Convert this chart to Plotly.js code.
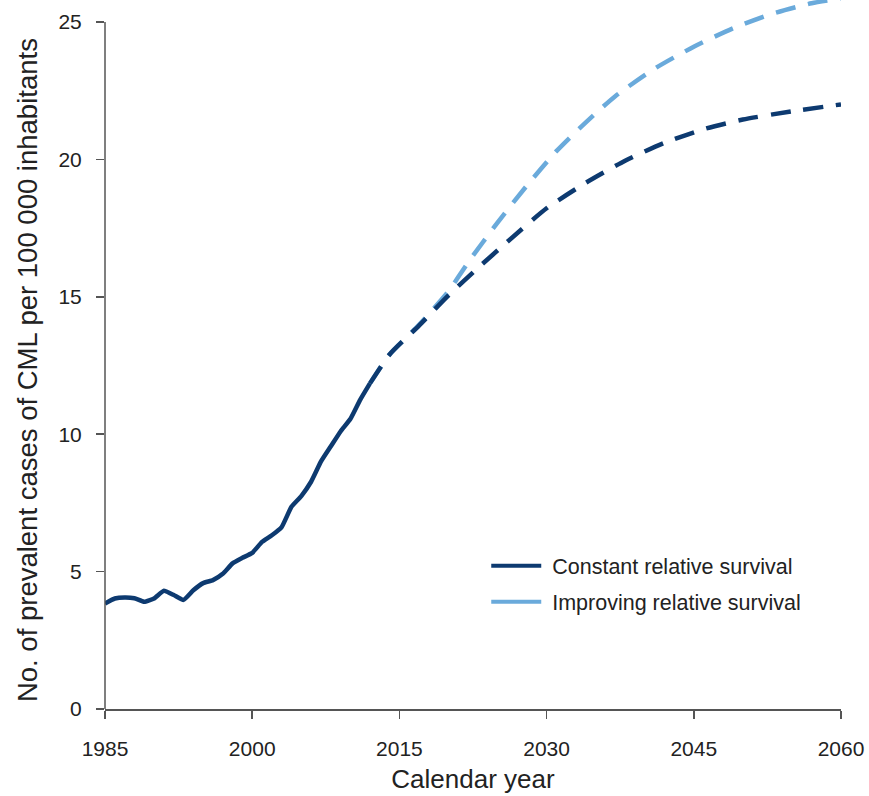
<!DOCTYPE html>
<html>
<head>
<meta charset="utf-8">
<script src="https://cdn.plot.ly/plotly-3.0.1.min.js"></script>
<style>html,body{margin:0;padding:0;background:#fff;}#chart{width:869px;height:796px;}</style>
</head>
<body>
<div id="chart"></div>
<script>
// Observed prevalence (solid)
const histYears = [1985,1986,1987,1988,1989,1990,1991,1992,1993,1994,1995,1996,1997,1998,1999,2000,2001,2002,2003,2004,2005,2006,2007,2008,2009,2010,2011,2012];
const histValues = [3.84,4.02,4.06,4.03,3.90,4.02,4.30,4.15,3.97,4.32,4.58,4.69,4.92,5.30,5.50,5.68,6.08,6.32,6.62,7.36,7.75,8.27,9.00,9.55,10.10,10.55,11.25,11.85];

// Projection: constant relative survival (dark dashed)
const constYears = [2012,2014,2017,2020,2023,2026,2030,2034,2038,2042,2046,2050,2055,2060];
const constValues = [11.85,12.90,13.95,15.05,16.05,17.00,18.22,19.15,19.95,20.60,21.10,21.45,21.75,22.00];

// Projection: improving relative survival (light dashed)
const improvYears = [2012,2014,2017,2020,2022,2025,2028,2031,2034,2037,2041,2045,2049,2053,2057,2060];
const improvValues = [11.85,12.90,13.98,15.20,16.25,17.70,19.05,20.30,21.35,22.30,23.30,24.10,24.77,25.30,25.68,25.85];

const seriesNames = ["Constant relative survival", "Improving relative survival"];
const xTicks = [1985,2000,2015,2030,2045,2060];
const yTicks = [0,5,10,15,20,25];
const xTitle = "Calendar year";
const yTitle = "No. of prevalent cases of CML per 100 000 inhabitants";

const dark = "#0d3a70";
const light = "#6aaadb";
const font = "Liberation Sans, Arial, Helvetica, sans-serif";

const traces = [
  {x: improvYears, y: improvValues, mode: "lines", line: {color: light, width: 4.5, dash: "20px,13px", shape: "spline", smoothing: 0.6}, showlegend: false, hoverinfo: "skip"},
  {x: constYears, y: constValues, mode: "lines", line: {color: dark, width: 4.5, dash: "20px,13px", shape: "spline", smoothing: 0.6}, showlegend: false, hoverinfo: "skip"},
  {x: histYears, y: histValues, mode: "lines", line: {color: dark, width: 4.5, shape: "spline", smoothing: 0.4}, showlegend: false, hoverinfo: "skip"},
  {x: [null], y: [null], mode: "lines", name: "\u00a0" + seriesNames[0], line: {color: dark, width: 4}, legendgroup: "a"},
  {x: [null], y: [null], mode: "lines", name: "\u00a0" + seriesNames[1], line: {color: light, width: 4}, legendgroup: "b"}
];

const layout = {
  width: 869, height: 796,
  margin: {l: 105, r: 28, t: 0, b: 87},
  paper_bgcolor: "#fff", plot_bgcolor: "#fff",
  font: {family: font, color: "#222", size: 21},
  showlegend: true,
  legend: {x: 0.518, xanchor: "left", y: 0.231, yanchor: "top", bgcolor: "rgba(0,0,0,0)", font: {size: 21.5, color: "#222"}, itemwidth: 50, tracegroupgap: 5},
  xaxis: {
    range: [1985, 2060], tickvals: xTicks, ticktext: xTicks.map(String),
    showgrid: false, zeroline: false, showline: true, linecolor: "#555", linewidth: 1.5,
    ticks: "outside", ticklen: 8, tickwidth: 1.5, tickcolor: "#555",
    tickfont: {size: 21, color: "#222"}, ticklabelstandoff: 12,
    title: {text: xTitle, font: {size: 26, color: "#222"}, standoff: 11}
  },
  yaxis: {
    range: [0, 25.8], tickvals: yTicks, ticktext: yTicks.map(String),
    showgrid: false, zeroline: false, showline: false,
    ticks: "outside", ticklen: 8, tickwidth: 1.5, tickcolor: "#555",
    tickfont: {size: 21, color: "#222"}, ticklabelstandoff: 10
  },
  annotations: [
    {text: yTitle, xref: "paper", yref: "paper", x: -0.106, y: 0.478, xanchor: "center", yanchor: "middle",
     textangle: -90, showarrow: false, font: {size: 27.5, color: "#222"}}
  ],
  shapes: [
    {type: "line", xref: "paper", yref: "y", x0: 0, x1: 0, y0: 0, y1: 25, line: {color: "#555", width: 1.5}}
  ]
};

Plotly.newPlot("chart", traces, layout, {staticPlot: true, displayModeBar: false});
</script>
</body>
</html>
